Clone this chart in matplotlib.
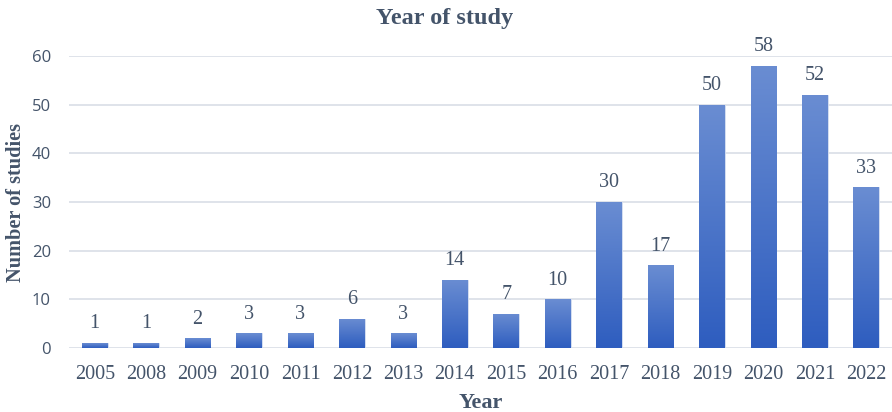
import matplotlib
matplotlib.use("Agg")
import matplotlib.pyplot as plt
import numpy as np
from matplotlib.colors import LinearSegmentedColormap

years = ["2005", "2008", "2009", "2010", "2011", "2012", "2013", "2014",
         "2015", "2016", "2017", "2018", "2019", "2020", "2021", "2022"]
counts = [1, 1, 2, 3, 3, 6, 3, 14, 7, 10, 30, 17, 50, 58, 52, 33]
yticks = [0, 10, 20, 30, 40, 50, 60]

txt = "#44546A"
serif = "Liberation Serif"

fig = plt.figure(figsize=(8.92, 4.12), dpi=100)
ax = fig.add_axes([0.0774, 0.1553, 0.9226, 0.7087])

x = np.arange(len(years))
bars = ax.bar(x, counts, width=0.5, color="#4472C4", edgecolor="#DDE5F4",
              linewidth=0.6, zorder=2)

cmap = LinearSegmentedColormap.from_list("g", ["#2E5DBF", "#6A8DD2"])
grad = np.linspace(0, 1, 256).reshape(-1, 1)
for b in bars:
    bx, by = b.get_x(), b.get_y()
    w, h = b.get_width(), b.get_height()
    im = ax.imshow(grad, cmap=cmap, origin="lower", aspect="auto",
                   extent=[bx, bx + w, by, by + h], zorder=2.5,
                   interpolation="bilinear")
    im.set_clip_path(b)

for xi, v in zip(x, counts):
    ax.annotate(str(v), (xi, v), xytext=(0, 7), textcoords="offset points",
                ha="center", va="bottom", fontsize=14.5, family=serif,
                color=txt)

ax.set_xlim(-0.5, len(years) - 0.5)
ax.set_ylim(0, 60)
ax.set_yticks(yticks)
ax.set_xticks(x)
ax.set_xticklabels(years, family=serif, fontsize=14.5, color=txt)
ax.tick_params(axis="y", labelsize=12, labelcolor=txt, length=0, pad=13)
for lab in ax.get_yticklabels():
    lab.set_family("Open Sans")
ax.tick_params(axis="x", length=0, pad=12)
ax.grid(axis="y", color="#D9DEE6", linewidth=1.2, zorder=0)
ax.set_axisbelow(True)
for s in ax.spines.values():
    s.set_visible(False)
ax.set_ylabel("Number of studies", family=serif, fontweight="bold",
              fontsize=14.6, color=txt, va="center")
ax.yaxis.set_label_coords(-0.0645, 0.5)
ax.set_xlabel("Year", family=serif, fontweight="bold", fontsize=16,
              color=txt, labelpad=7)
fig.text(0.5 + 0.0774/2 - 0.04, 0.955, "Year of study", family=serif,
         fontweight="bold", fontsize=17.5, color=txt, ha="center", va="center")

fig.savefig("out.png", dpi=100)
